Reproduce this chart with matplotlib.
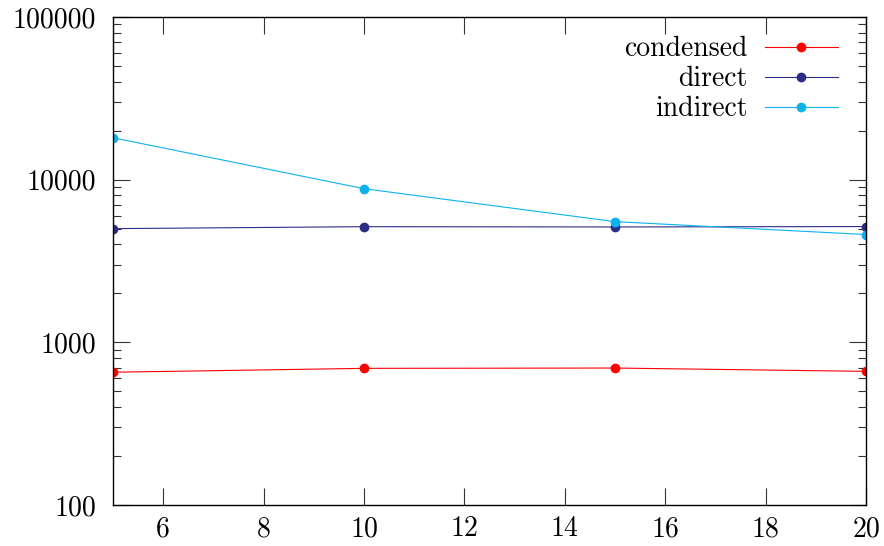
import numpy as np
import matplotlib
matplotlib.use("Agg")
from matplotlib import pyplot as plt
from matplotlib.ticker import LogLocator, NullFormatter

# data
x = [5, 10, 15, 20]
condensed = [655, 692, 695, 663]
direct = [5000, 5140, 5120, 5150]
indirect = [18100, 8800, 5520, 4600]

xticks = [6, 8, 10, 12, 14, 16, 18, 20]
yticks = [100, 1000, 10000, 100000]

plt.rcParams['font.family'] = 'cmr10'
plt.rcParams['axes.formatter.use_mathtext'] = True
plt.rcParams['font.size'] = 20

fig = plt.figure(figsize=(8.84, 5.46), dpi=100)
ax = fig.add_axes([113/884, 1-505/546, 753/884, 488/546])

ax.plot(x, condensed, color='#ff0000', lw=0.8, marker='o', ms=6, label='condensed')
ax.plot(x, direct, color='#2b2d86', lw=0.8, marker='o', ms=6, label='direct')
ax.plot(x, indirect, color='#0cb2ee', lw=0.8, marker='o', ms=6, label='indirect')

ax.set_yscale('log')
ax.set_xlim(5, 20)
ax.set_ylim(100, 100000)
ax.set_xticks(xticks)
ax.set_xticklabels([str(v) for v in xticks])
ax.set_yticks(yticks)
ax.set_yticklabels([str(v) for v in yticks])
ax.yaxis.set_minor_locator(LogLocator(base=10, subs=np.arange(2, 10)))
ax.yaxis.set_minor_formatter(NullFormatter())

ax.tick_params(which='both', direction='in', top=True, right=True, width=0.8, color='#333333')
ax.tick_params(which='major', length=12, pad=8)
ax.tick_params(which='minor', length=6)
ax.tick_params(axis='y', pad=12)
for s in ax.spines.values():
    s.set_linewidth(1.0)

leg = ax.legend(loc='upper right', bbox_to_anchor=(0.963, 0.961), frameon=False,
                markerfirst=False, borderpad=0, borderaxespad=0,
                handlelength=2.65, handletextpad=0.6, labelspacing=0.13, fontsize=20)

fig.savefig('out.png', dpi=100)
